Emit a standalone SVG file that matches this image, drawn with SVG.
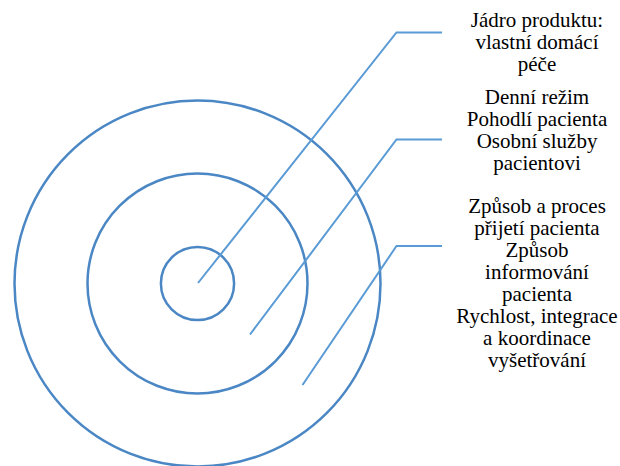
<svg xmlns="http://www.w3.org/2000/svg" width="620" height="466" viewBox="0 0 620 466">
<style>
.ring{fill:none;stroke:#4A87C4;stroke-width:2.5}
.conn{fill:none;stroke:#5B9BD5;stroke-width:2}
.lbl{font-family:"Liberation Serif","Times New Roman",serif;font-size:21px;fill:#000;text-anchor:middle}
</style>
<rect width="620" height="466" fill="#fff"/>
<g id="outer"><circle class="ring" cx="197.5" cy="283.5" r="183"/></g>
<g id="middle"><circle class="ring" cx="197.5" cy="283.5" r="110"/></g>
<g id="inner"><circle class="ring" cx="197.5" cy="283.5" r="36.6"/></g>
<g id="connectors">
<polyline class="conn" points="198,283 396.5,32.5 442,32.5"/>
<polyline class="conn" points="250,334.5 396.5,139.5 442,139.5"/>
<polyline class="conn" points="302.5,385 396.5,246 442,246"/>
</g>
<g id="label-core">
<text class="lbl" x="537" y="27">Jádro produktu:</text>
<text class="lbl" x="537" y="48.9">vlastní domácí</text>
<text class="lbl" x="537" y="70.8">péče</text>
</g>
<g id="label-middle">
<text class="lbl" x="537" y="104.3">Denní režim</text>
<text class="lbl" x="537" y="126.2">Pohodlí pacienta</text>
<text class="lbl" x="537" y="148.1">Osobní služby</text>
<text class="lbl" x="537" y="170">pacientovi</text>
</g>
<g id="label-outer">
<text class="lbl" x="537" y="213.3">Způsob a proces</text>
<text class="lbl" x="537" y="235.2">přijetí pacienta</text>
<text class="lbl" x="537" y="257.1">Způsob</text>
<text class="lbl" x="537" y="279">informování</text>
<text class="lbl" x="537" y="300.9">pacienta</text>
<text class="lbl" x="537" y="322.8">Rychlost, integrace</text>
<text class="lbl" x="537" y="344.7">a koordinace</text>
<text class="lbl" x="537" y="366.6">vyšetřování</text>
</g>
</svg>
